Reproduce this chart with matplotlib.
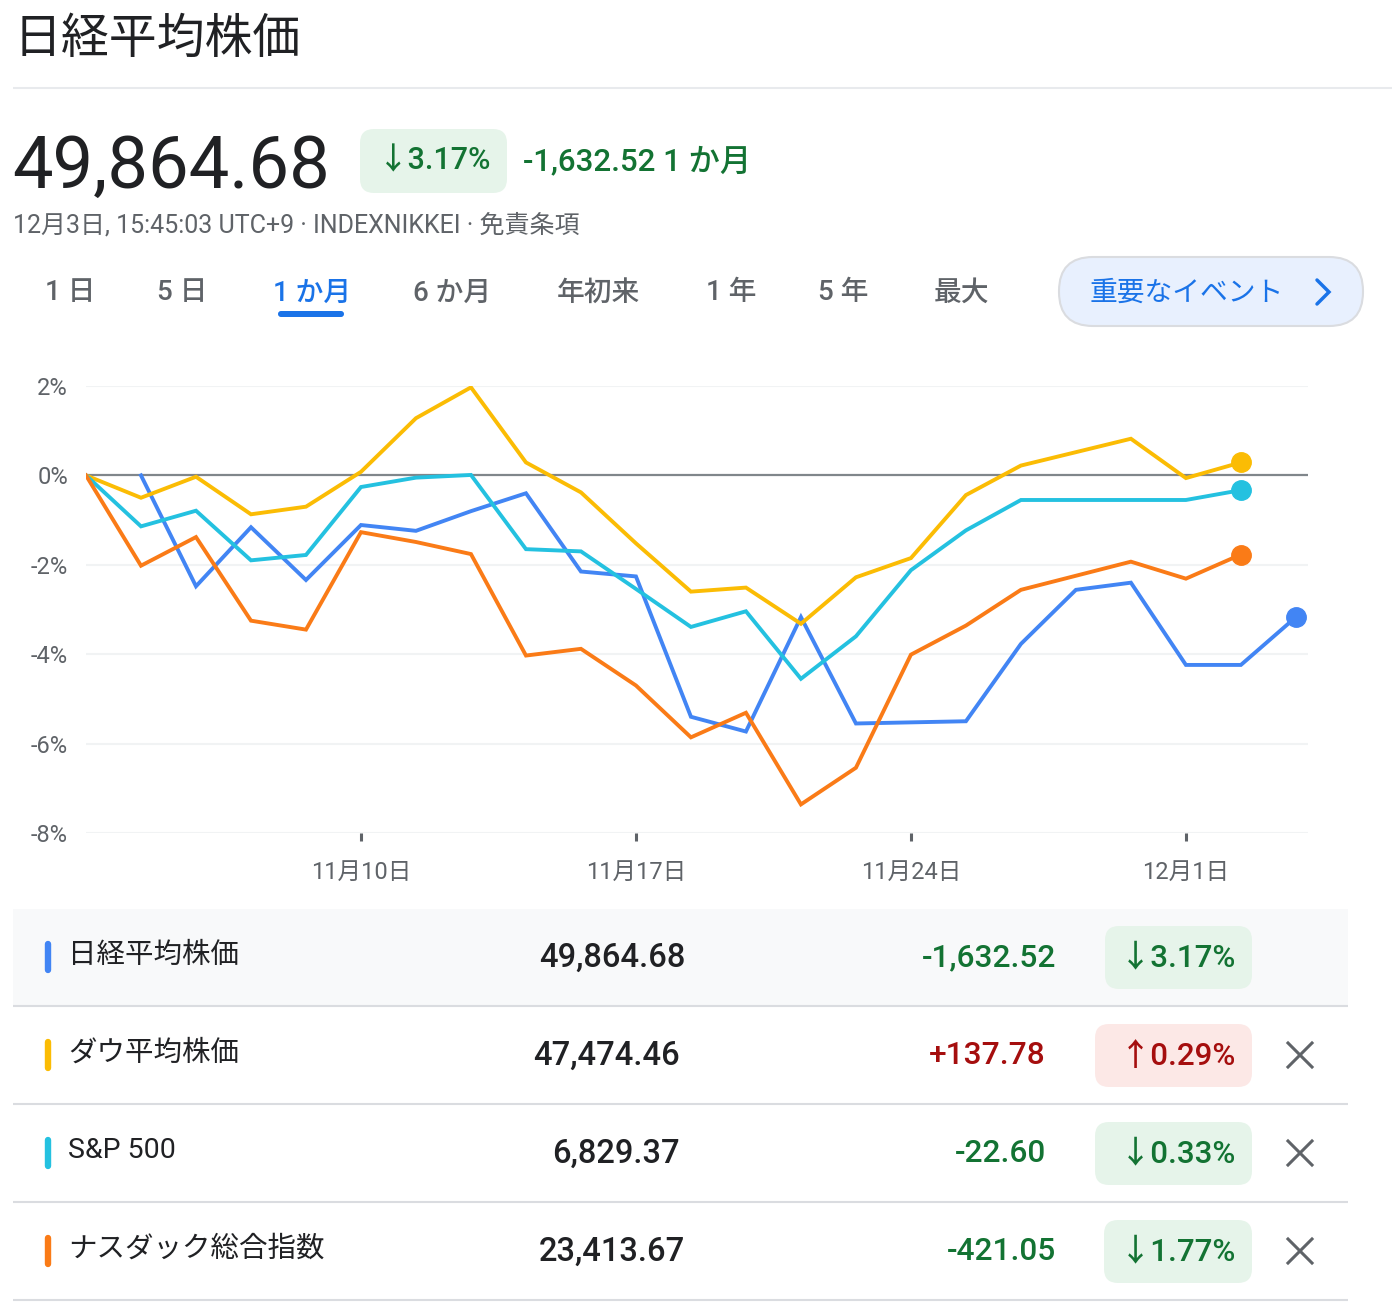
import numpy as np
import matplotlib
matplotlib.use("Agg")
import matplotlib.pyplot as plt
from matplotlib.patches import FancyBboxPatch, Rectangle

W, H = 1392, 1314
nan = np.nan

# trading days 11/3 .. 12/3, values are % change over the month
tickPos = [5, 10, 15, 20]
tickLabels = ['11月10日', '11月17日', '11月24日', '12月1日']
yTicks = [2, 0, -2, -4, -6, -8]

nikkei = [nan, 0.00, -2.48, -1.16, -2.34, -1.11, -1.24, -0.80, -0.40, -2.15, -2.26, -5.40,
          -5.73, -3.17, -5.55, nan, -5.50, -3.77, -2.56, -2.40, -4.24, -4.24, -3.17]
dow = [0.00, -0.50, -0.03, -0.87, -0.70, 0.08, 1.28, 1.97, 0.29, -0.38, -1.52, -2.60,
       -2.51, -3.32, -2.28, -1.85, -0.44, 0.22, nan, 0.82, -0.06, 0.29, nan]
sp500 = [0.00, -1.14, -0.79, -1.90, -1.78, -0.26, -0.05, 0.01, -1.65, -1.70, -2.54, -3.39,
         -3.04, -4.55, -3.60, -2.12, -1.23, -0.55, nan, -0.55, -0.55, -0.33, nan]
nasdaq = [0.00, -2.02, -1.38, -3.25, -3.45, -1.27, -1.49, -1.76, -4.03, -3.88, -4.70, -5.86,
          -5.31, -7.36, -6.54, -4.01, -3.36, -2.56, nan, -1.93, -2.31, -1.77, nan]

names = ['日経平均株価', 'ダウ平均株価', 'S&P 500', 'ナスダック総合指数']
prices = ['49,864.68', '47,474.46', '6,829.37', '23,413.67']
changes = ['-1,632.52', '+137.78', '-22.60', '-421.05']
pcts = ['↓3.17%', '↑0.29%', '↓0.33%', '↓1.77%']
isUp = [False, True, False, False]
lineColors = ['#4285f4', '#fbbc04', '#24c1e0', '#fa7b17']
series = [nikkei, dow, sp500, nasdaq]

tabs = ['1 日', '5 日', '1 か月', '6 か月', '年初来', '1 年', '5 年', '最大']
tabX = [45, 157, 273, 413, 557, 706, 818, 934]

latin = ['Roboto', 'Noto Sans CJK JP', 'DejaVu Sans']
cjk = ['Noto Sans CJK JP', 'DejaVu Sans']
GRAY = '#5f6368'
GREEN = '#137333'
RED = '#a50e0e'

fig = plt.figure(figsize=(W / 100, H / 100), dpi=100)
fig.patch.set_facecolor('white')

# background axes in pixel coordinates for the page parts
bg = fig.add_axes([0, 0, 1, 1])
bg.set_xlim(0, W)
bg.set_ylim(H, 0)
bg.axis('off')


def pill(x, y, w, h, fc, ec='none', r=14, lw=0):
    bg.add_patch(FancyBboxPatch((x, y), w, h, boxstyle=f'round,pad=0,rounding_size={r}',
                                fc=fc, ec=ec, lw=lw))


def hline(y, x0, x1, color='#dadce0', lw=1.5):
    bg.plot([x0, x1], [y, y], color=color, lw=lw, solid_capstyle='butt')


# header
bg.text(14, 39, '日経平均株価', family=cjk, fontsize=34.5, color='#202124', va='center')
hline(88, 13, W, color='#e8eaed')
bg.text(12, 168, '49,864.68', family=latin, fontsize=52, color='#202124', va='center')
pill(360, 129, 147, 64, '#e6f4ea')
bg.text(435, 161, '↓3.17%', family=latin, fontsize=22, color=GREEN, va='center', ha='center',
        weight='medium')
bg.text(523, 161, '-1,632.52 1 か月', family=latin, fontsize=22.5, color=GREEN, va='center',
        weight='medium')
bg.text(13, 225, '12月3日, 15:45:03 UTC+9 · INDEXNIKKEI · 免責条項', family=latin, fontsize=18,
        color=GRAY, va='center')

# range tabs
for label, x in zip(tabs, tabX):
    c = '#1a73e8' if label == '1 か月' else GRAY
    bg.text(x, 293, label, family=latin, fontsize=20, color=c, va='center', weight='medium')
pill(278, 311, 66, 6, '#1a73e8', r=3)
pill(1059, 257, 304, 69, '#e8f0fe', ec='#dadce0', r=34, lw=1.5)
bg.text(1090, 293, '重要なイベント', family=cjk, fontsize=20, color='#1a73e8', va='center')
bg.plot([1317, 1329, 1317], [280, 292, 304], color='#1a73e8', lw=2.5, solid_capstyle='round',
        solid_joinstyle='miter')

# chart
ax = fig.add_axes([86 / W, 1 - 833 / H, (1308 - 86) / W, (833 - 386) / H])
ax.patch.set_alpha(0)
ax.set_xlim(0, 22.22)
ax.set_ylim(-8, 2)
for s in ax.spines.values():
    s.set_visible(False)
for y in yTicks:
    if y != 0:
        ax.axhline(y, color='#f1f3f4', lw=1.5, zorder=1)
ax.axhline(0, color='#80868b', lw=1.6, zorder=2)
ax.set_yticks(yTicks)
ax.set_yticklabels([f'{y}%' for y in yTicks], family=latin, fontsize=17, color=GRAY)
ax.tick_params(axis='y', length=0, pad=13)
ax.set_xticks(tickPos)
ax.set_xticklabels(tickLabels, family=latin, fontsize=17, color=GRAY)
ax.tick_params(axis='x', length=6, width=2.2, color=GRAY, pad=14)

idx = np.arange(len(dow))
for vals, col in zip(series, lineColors):
    v = np.array(vals, dtype=float)
    ok = ~np.isnan(v)
    ax.plot(idx[ok], v[ok], color=col, lw=2.8, zorder=3, solid_joinstyle='miter')
    last = idx[ok][-1]
    ax.plot(last, v[ok][-1], 'o', color=col, ms=14, zorder=4, clip_on=False)

# table
rowY = [957, 1055, 1153, 1251]
bg.add_patch(Rectangle((13, 909), 1335, 96, fc='#f8f9fa', ec='none'))
for i in range(4):
    cy = rowY[i]
    hline(cy + 49, 13, 1348)
    bg.plot([48, 48], [cy - 13, cy + 13], color=lineColors[i], lw=4.6, solid_capstyle='round')
    bg.text(68, cy - 2, names[i], family=latin, fontsize=20.5, color='#202124', va='center')
    px = 685 if i == 0 or i == 3 else 680
    bg.text(px, cy + 1, prices[i], family=latin, fontsize=23.5, color='#202124', va='center',
            ha='right', weight='medium')
    col = RED if isUp[i] else GREEN
    cx = 1056 if i == 0 or i == 3 else 1046
    bg.text(cx, cy + 1, changes[i], family=latin, fontsize=22.8, color=col, va='center',
            ha='right', weight='medium')
    pl = [1105, 1095, 1095, 1104][i]
    pill(pl, cy - 31, 1252 - pl, 63, '#fce8e6' if isUp[i] else '#e6f4ea')
    bg.text(1236, cy + 1, pcts[i], family=latin, fontsize=22.5, color=col, va='center',
            ha='right', weight='medium')
    if i > 0:
        bg.plot([1288, 1312], [cy - 12, cy + 12], color=GRAY, lw=2.2)
        bg.plot([1288, 1312], [cy + 12, cy - 12], color=GRAY, lw=2.2)

fig.savefig('out.png', dpi=100, facecolor='white')
